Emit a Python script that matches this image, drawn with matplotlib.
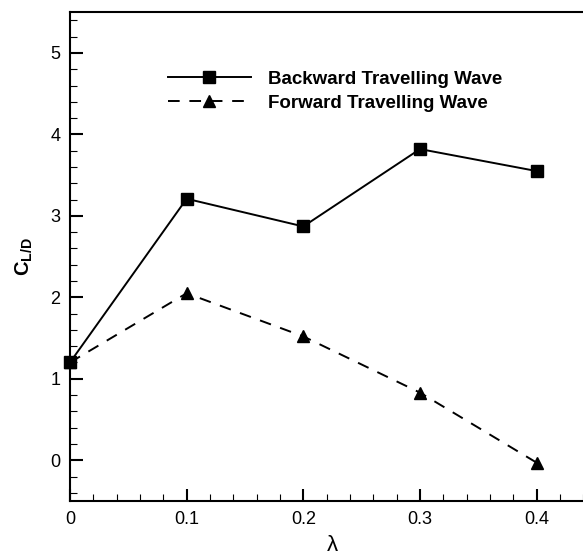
import matplotlib
matplotlib.use("Agg")
import matplotlib.pyplot as plt
from matplotlib.ticker import MultipleLocator

plt.rcParams['font.family'] = ['Liberation Sans', 'DejaVu Sans']
plt.rcParams['mathtext.fontset'] = 'custom'
plt.rcParams['mathtext.rm'] = 'Liberation Sans'
plt.rcParams['mathtext.bf'] = 'Liberation Sans:bold'

# wavelength ratio and lift/drag coefficient
lam = [0.0, 0.1, 0.2, 0.3, 0.4]
cld_backward = [1.20, 3.21, 2.87, 3.82, 3.55]
cld_forward = [1.20, 2.05, 1.52, 0.83, -0.03]

fig = plt.figure(figsize=(5.83, 5.56), dpi=100)
ax = fig.add_axes([0.120, 0.099, 0.9006, 0.879])

ax.plot(lam, cld_forward, color='black', lw=1.4, ls=(0, (6, 5)),
        marker='^', ms=9, clip_on=False, label='Forward Travelling Wave')
ax.plot(lam, cld_backward, color='black', lw=1.4, ls='-',
        marker='s', ms=8.5, clip_on=False, label='Backward Travelling Wave')

ax.set_xlim(0, 0.45)
ax.set_ylim(-0.5, 5.5)
ax.xaxis.set_major_locator(MultipleLocator(0.1))
ax.xaxis.set_minor_locator(MultipleLocator(0.02))
ax.yaxis.set_major_locator(MultipleLocator(1))
ax.yaxis.set_minor_locator(MultipleLocator(0.2))
ax.set_xticks([0, 0.1, 0.2, 0.3, 0.4])
ax.set_xticklabels(['0', '0.1', '0.2', '0.3', '0.4'])

ax.tick_params(which='major', direction='in', length=9, width=1.5,
               labelsize=13, pad=7)
ax.tick_params(which='minor', direction='in', length=5, width=0.8)
for s in ax.spines.values():
    s.set_linewidth(1.5)

ax.set_xlabel('\u03bb', fontsize=16, labelpad=5)
ax.set_ylabel(r'$\mathbf{C}_{\mathbf{L/D}}$', fontsize=14.5, labelpad=11)

handles, labels = ax.get_legend_handles_labels()
ax.legend(handles[::-1], labels[::-1], loc='upper left',
          bbox_to_anchor=(0.187, 0.88), frameon=False,
          handlelength=4.4, handletextpad=0.9, labelspacing=0.35,
          borderpad=0, borderaxespad=0,
          prop={'weight': 'bold', 'size': 13.5})

fig.savefig('out.png', dpi=100)
